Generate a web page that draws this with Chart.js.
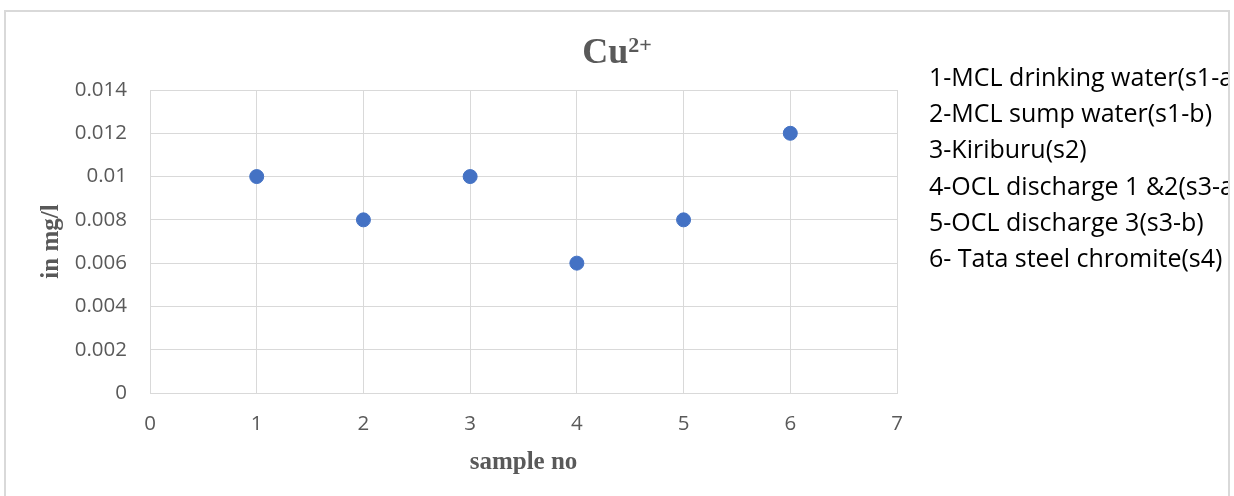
<!DOCTYPE html>
<html>
<head>
<meta charset="utf-8">
<script src="https://cdn.jsdelivr.net/npm/chart.js@4/dist/chart.umd.min.js"></script>
<style>
  html, body { margin:0; padding:0; background:#fff; }
  body { width:1234px; height:496px; overflow:hidden; position:relative; }
  #wrap { position:absolute; left:0; top:0; width:1234px; height:496px; }
  #frame { position:absolute; left:4px; top:10px; width:1226px; height:560px; box-sizing:border-box; border:2px solid #d9d9d9; pointer-events:none; }
  #title { position:absolute; left:557px; top:28px; width:120px; text-align:center; font-family:"Liberation Serif", serif; font-weight:bold; font-size:36px; color:#595959; line-height:46px; white-space:nowrap; }
  #title sup { font-size:22px; vertical-align:top; position:relative; top:-6px; }
  #notes { position:absolute; left:929px; top:58px; width:299px; height:300px; overflow:hidden; font-family:"Open Sans", sans-serif; font-size:25px; color:#000; line-height:36.2px; white-space:nowrap; }
</style>
</head>
<body>
<div id="wrap"><canvas id="c" width="1234" height="496"></canvas></div>
<div id="title">Cu<sup>2+</sup></div>
<div id="notes"></div>
<div id="frame"></div>
<script>
const sampleNo = [1, 2, 3, 4, 5, 6];
const cuValues = [0.01, 0.008, 0.01, 0.006, 0.008, 0.012];
const sampleNotes = [
  "1-MCL drinking water(s1-a)",
  "2-MCL sump water(s1-b)",
  "3-Kiriburu(s2)",
  "4-OCL discharge 1 &2(s3-a)",
  "5-OCL discharge 3(s3-b)",
  "6- Tata steel chromite(s4)"
];
const xAxisTitle = "sample no";
const yAxisTitle = "in mg/l";

document.getElementById('notes').innerHTML = sampleNotes.map(t => '<div>' + t.replace(/&/g,'&amp;') + '</div>').join('');

const points = sampleNo.map((x, i) => ({ x: x, y: cuValues[i] }));
const tickFont = { family: "'Open Sans', sans-serif", size: 20.5 };
const titleFont = { family: "'Liberation Serif', serif", size: 25, weight: 'bold' };

new Chart(document.getElementById('c'), {
  type: 'scatter',
  data: {
    datasets: [{
      data: points,
      backgroundColor: '#4472C4',
      borderColor: '#4472C4',
      pointRadius: 7,
      pointHoverRadius: 7,
      borderWidth: 1
    }]
  },
  options: {
    responsive: false,
    animation: false,
    devicePixelRatio: 1,
    layout: { padding: { left: 0, top: 90, right: 337, bottom: 0 } },
    plugins: { legend: { display: false }, tooltip: { enabled: false }, title: { display: false } },
    scales: {
      x: {
        type: 'linear', min: 0, max: 7,
        afterFit: s => { s.height = 103; },
        ticks: { stepSize: 1, color: '#595959', font: tickFont, padding: 19 },
        grid: { color: '#d9d9d9', lineWidth: 1, drawTicks: false },
        border: { color: '#d9d9d9', width: 1 },
        title: { display: true, text: xAxisTitle, color: '#595959', font: titleFont, padding: { top: 0, bottom: 18 } }
      },
      y: {
        type: 'linear', min: 0, max: 0.014,
        afterFit: s => { s.width = 150; },
        ticks: { stepSize: 0.002, color: '#595959', font: tickFont, padding: 23,
                 callback: v => String(+Number(v).toFixed(3)) },
        grid: { color: '#d9d9d9', lineWidth: 1, drawTicks: false },
        border: { color: '#d9d9d9', width: 1 },
        title: { display: true, text: yAxisTitle, color: '#595959', font: titleFont, padding: { top: 37, bottom: 0 } }
      }
    }
  }
});
</script>
</body>
</html>
